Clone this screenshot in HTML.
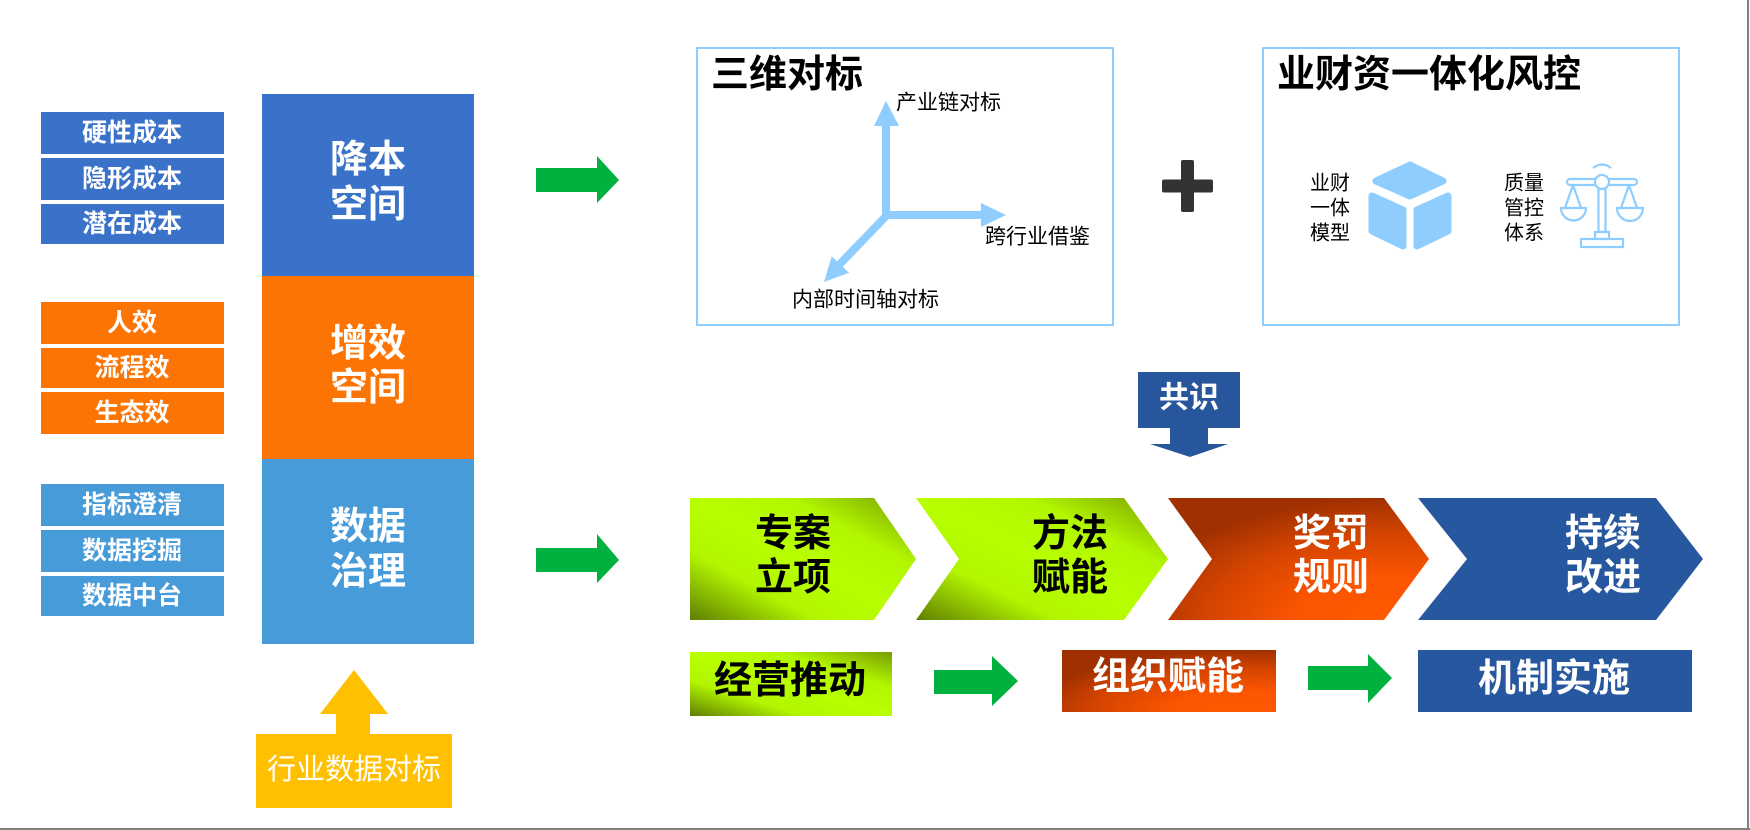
<!DOCTYPE html>
<html>
<head>
<meta charset="utf-8">
<style>
html,body{margin:0;padding:0;background:#fff;}
body{width:1750px;height:830px;overflow:hidden;}
svg{display:block;}
text{font-family:"Liberation Sans","Noto Sans CJK SC","WenQuanYi Zen Hei",sans-serif;dominant-baseline:central;}
.b{font-weight:bold;}
</style>
</head>
<body>
<svg width="1750" height="830" viewBox="0 0 1750 830" xmlns="http://www.w3.org/2000/svg">
<defs>
  <linearGradient id="lime" x1="0" y1="1" x2="1" y2="0">
    <stop offset="0" stop-color="#5f7e00"/>
    <stop offset="0.28" stop-color="#b2f500"/>
    <stop offset="0.5" stop-color="#b8ff00"/>
    <stop offset="0.72" stop-color="#b2f600"/>
    <stop offset="1" stop-color="#769c00"/>
  </linearGradient>
  <radialGradient id="orng" cx="0.85" cy="1" r="1" fx="0.85" fy="1">
    <stop offset="0" stop-color="#ff5a00"/>
    <stop offset="0.35" stop-color="#fb5500"/>
    <stop offset="0.7" stop-color="#d44400"/>
    <stop offset="1" stop-color="#a03000"/>
  </radialGradient>
</defs>

<!-- borders -->
<rect x="0" y="828" width="1750" height="2" fill="#808080"/>
<rect x="1747" y="0" width="2" height="830" fill="#808080"/>

<!-- left small boxes -->
<g fill="#3a72c9">
  <rect x="41" y="112" width="183" height="42"/>
  <rect x="41" y="158" width="183" height="42"/>
  <rect x="41" y="204" width="183" height="40"/>
</g>
<g fill="#fc7504">
  <rect x="41" y="302" width="183" height="42"/>
  <rect x="41" y="348" width="183" height="40"/>
  <rect x="41" y="392" width="183" height="42"/>
</g>
<g fill="#469bd8">
  <rect x="41" y="484" width="183" height="42"/>
  <rect x="41" y="530" width="183" height="42"/>
  <rect x="41" y="576" width="183" height="40"/>
</g>
<g fill="#fff" font-size="25" class="b" text-anchor="middle">
  <text x="132" y="133">硬性成本</text>
  <text x="132" y="179">隐形成本</text>
  <text x="132" y="224">潜在成本</text>
  <text x="132" y="323">人效</text>
  <text x="132" y="368">流程效</text>
  <text x="132" y="413">生态效</text>
  <text x="132" y="505">指标澄清</text>
  <text x="132" y="551">数据挖掘</text>
  <text x="132" y="596">数据中台</text>
</g>

<!-- big column -->
<rect x="262" y="94" width="212" height="182" fill="#3a72c9"/>
<rect x="262" y="276" width="212" height="183" fill="#fc7504"/>
<rect x="262" y="459" width="212" height="185" fill="#469bd8"/>
<g fill="#fff" font-size="38" class="b" text-anchor="middle">
  <text x="368" y="160">降本</text>
  <text x="368" y="205">空间</text>
  <text x="368" y="344">增效</text>
  <text x="368" y="388">空间</text>
  <text x="368" y="527">数据</text>
  <text x="368" y="572">治理</text>
</g>

<!-- yellow arrow + box -->
<polygon points="354,670 388,714 370,714 370,734 336,734 336,714 320,714" fill="#ffc000"/>
<rect x="256" y="734" width="196" height="74" fill="#ffc000"/>
<text x="354" y="770" fill="#fff" font-size="29" text-anchor="middle">行业数据对标</text>

<!-- green arrows -->
<g fill="#00b140">
  <polygon points="536,168 597,168 597,156 619,180 597,203 597,192 536,192"/>
  <polygon points="536,548 597,548 597,534 619,560 597,583 597,572 536,572"/>
  <polygon points="934,670 992,670 992,656 1018,681 992,706 992,694 934,694"/>
  <polygon points="1308,666 1368,666 1368,654 1392,678 1368,703 1368,690 1308,690"/>
</g>

<!-- box 1: 三维对标 -->
<rect x="697" y="48" width="416" height="277" fill="none" stroke="#8ecdfd" stroke-width="2"/>
<text x="711" y="75" font-size="38" class="b" fill="#000">三维对标</text>
<g fill="#8ecdfd">
  <rect x="882" y="124" width="8" height="95"/>
  <polygon points="874,126 899,126 886,101"/>
  <rect x="883" y="211" width="100" height="8"/>
  <polygon points="981,203 981,227 1006,215"/>
  <line x1="889" y1="213" x2="838" y2="266" stroke="#8ecdfd" stroke-width="8"/>
  <polygon points="824,282 831.7,256.3 849.1,272.7"/>
</g>
<g font-size="21" fill="#000">
  <text x="896" y="103">产业链对标</text>
  <text x="985" y="237">跨行业借鉴</text>
  <text x="792" y="300">内部时间轴对标</text>
</g>

<!-- plus -->
<g fill="#333">
  <rect x="1181" y="160" width="13" height="52" rx="2"/>
  <rect x="1162" y="179.5" width="51" height="13" rx="2"/>
</g>

<!-- box 2 -->
<rect x="1263" y="48" width="416" height="277" fill="none" stroke="#8ecdfd" stroke-width="2"/>
<text x="1277" y="75" font-size="38" class="b" fill="#000">业财资一体化风控</text>
<g font-size="20" fill="#000">
  <text x="1310" y="183.5">业财</text>
  <text x="1310" y="208.5">一体</text>
  <text x="1310" y="233.5">模型</text>
  <text x="1504" y="183.5">质量</text>
  <text x="1504" y="208.5">管控</text>
  <text x="1504" y="233.5">体系</text>
</g>
<!-- cube -->
<g fill="#8ecdfd" stroke="#8ecdfd" stroke-width="7" stroke-linejoin="round">
  <polygon points="1410,165 1443,181 1410,196 1376,181"/>
  <polygon points="1372,196 1403,210 1403,246 1372,231"/>
  <polygon points="1417,210 1448,196 1448,231 1417,246"/>
</g>
<!-- scale -->
<g fill="none" stroke="#8ecdfd" stroke-width="2.2">
  <path d="M1593,168 Q1602,161 1611,168"/>
  <rect x="1567" y="179" width="70" height="6" rx="3"/>
  <circle cx="1602" cy="182" r="7" fill="#fff"/>
  <rect x="1598.5" y="189" width="7" height="43"/>
  <rect x="1595" y="232" width="14" height="7"/>
  <rect x="1581" y="239" width="42" height="8"/>
  <path d="M1573,185 L1565,208 M1573,185 L1581,208"/>
  <path d="M1561,208 L1586,208 A12.5,12.5 0 0 1 1561,208 Z"/>
  <path d="M1629,185 L1621,208 M1629,185 L1637,208"/>
  <path d="M1617,208 L1643,208 A13,13 0 0 1 1617,208 Z"/>
</g>

<!-- 共识 -->
<polygon points="1138,372 1240,372 1240,428 1208,428 1208,444 1228,444 1190,457 1150,444 1170,444 1170,428 1138,428" fill="#27569c"/>
<text x="1189" y="398" font-size="30" class="b" fill="#fff" text-anchor="middle">共识</text>

<!-- chevrons -->
<polygon points="690,498 874,498 916,559 874,620 690,620" fill="url(#lime)"/>
<polygon points="916,498 1124,498 1168,559 1124,620 916,620 959,559" fill="url(#lime)"/>
<polygon points="1168,498 1384,498 1429,559 1384,620 1168,620 1212,559" fill="url(#orng)"/>
<polygon points="1418,498 1656,498 1703,559 1656,620 1418,620 1467,559" fill="#27579e"/>
<g font-size="38" class="b" text-anchor="middle">
  <text x="793" y="534" fill="#000">专案</text>
  <text x="793" y="578" fill="#000">立项</text>
  <text x="1070" y="534" fill="#000">方法</text>
  <text x="1070" y="578" fill="#000">赋能</text>
  <text x="1331" y="534" fill="#fff">奖罚</text>
  <text x="1331" y="578" fill="#fff">规则</text>
  <text x="1603" y="534" fill="#fff">持续</text>
  <text x="1603" y="578" fill="#fff">改进</text>
</g>

<!-- bottom row -->
<rect x="690" y="652" width="202" height="64" fill="url(#lime)"/>
<rect x="1062" y="650" width="214" height="62" fill="url(#orng)"/>
<rect x="1418" y="650" width="274" height="62" fill="#27579e"/>
<g font-size="38" class="b" text-anchor="middle">
  <text x="790" y="681" fill="#000">经营推动</text>
  <text x="1168" y="677" fill="#fff">组织赋能</text>
  <text x="1554" y="679" fill="#fff">机制实施</text>
</g>
</svg>
</body>
</html>
